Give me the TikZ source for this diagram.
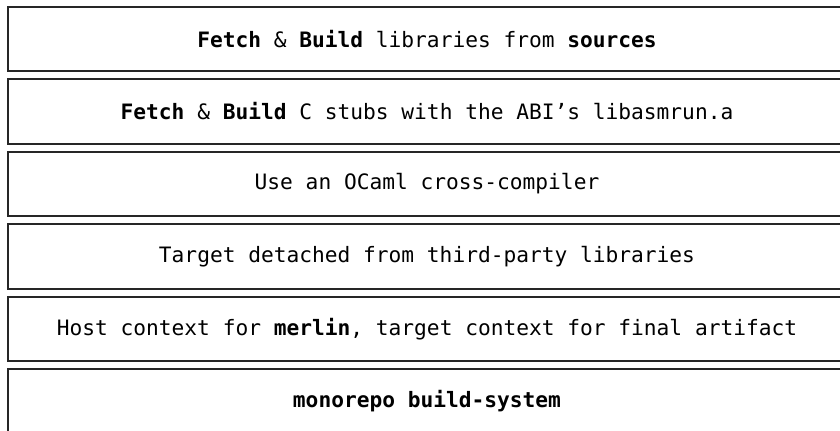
\documentclass[tikz,border=0pt]{standalone}
\usepackage{fontspec}
\setmonofont{DejaVu Sans Mono}
\usetikzlibrary{positioning}

\begin{document}
\begin{tikzpicture}[
      x = 1pt, y = 1pt,
      font = \ttfamily\fontsize{10.6}{12}\selectfont,
      layer/.style = {draw = black!85, line width = 1pt, inner sep = 0pt,
                      minimum width = 419pt, minimum height = 32.25pt},
      node distance = 3pt
    ]

  \useasboundingbox (0,0) rectangle (420,215.5);
  \clip (0,0) rectangle (420,215.5);

  % ---------- stack of layers, top to bottom ---------------------------
  \node[layer] (sources) at (213.5,196)
        {\textbf{Fetch} \& \textbf{Build} libraries from \textbf{sources}};
  \node[layer, below = of sources] (stubs)
        {\textbf{Fetch} \& \textbf{Build} C stubs with the ABI’s libasmrun.a};
  \node[layer, below = of stubs] (cross)
        {Use an OCaml cross-compiler};
  \node[layer, below = of cross] (detached)
        {Target detached from third-party libraries};
  \node[layer, below = of detached] (contexts)
        {Host context for \textbf{merlin}, target context for final artifact};
  \node[layer, below = of contexts] (monorepo)
        {\textbf{monorepo build-system}};

\end{tikzpicture}
\end{document}
